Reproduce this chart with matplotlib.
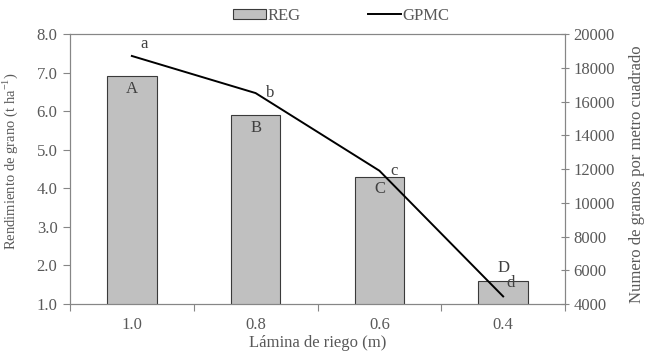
import numpy as np
import matplotlib
matplotlib.use("Agg")
import matplotlib.pyplot as plt

plt.rcParams['font.family'] = ['Liberation Serif', 'DejaVu Serif']
plt.rcParams['mathtext.fontset'] = 'custom'
plt.rcParams['mathtext.rm'] = 'Liberation Serif'

# datos
laminas = ["1.0", "0.8", "0.6", "0.4"]
reg = [6.9, 5.9, 4.3, 1.6]            # rendimiento de grano (t/ha)
gpmc = [18700, 16500, 11900, 4450]    # granos por metro cuadrado
letras_reg = ["A", "B", "C", "D"]
letras_gpmc = ["a", "b", "c", "d"]

gris = "#595959"
eje = "#868686"

fig = plt.figure(figsize=(6.69, 3.62), dpi=100)
ax = fig.add_axes([0.1046, 0.1602, 0.74, 0.7458])
x = np.arange(len(laminas))

barras = ax.bar(x, reg, width=0.4, bottom=0, color="#c0c0c0",
                edgecolor="#3a3a3a", linewidth=0.8, label="REG", zorder=2)
ax.set_ylim(1.0, 8.0)
ax.set_xlim(-0.5, 3.5)
ax.set_yticks(np.arange(1, 8.5, 1.0))
ax.set_yticklabels([f"{v:.1f}" for v in np.arange(1, 8.5, 1.0)])
ax.set_xticks(np.arange(-0.5, 4, 1.0))
ax.set_xticklabels([])
ax.set_xticks(x, minor=True)
ax.set_xticklabels(laminas, minor=True)
ax.tick_params(axis="x", which="minor", length=0, pad=9, labelsize=12, labelcolor=gris)
ax.tick_params(axis="x", which="major", direction="out", length=5, color=eje)
ax.tick_params(axis="y", direction="out", length=5, color=eje, pad=4)
ax.tick_params(labelsize=12, labelcolor=gris)
for s in ax.spines.values():
    s.set_color(eje)
ax.set_xlabel("Lámina de riego (m)", fontsize=12, color=gris, labelpad=2)
ax.set_ylabel("Rendimiento de grano (t ha$^{\\mathregular{-1}}$)", fontsize=10.5, color=gris)
ax.yaxis.set_label_coords(-0.10, 0.53)

for xi, v, l in zip(x, reg, letras_reg):
    if v > 2:
        ax.text(xi, v - 0.12, l, ha="center", va="top", fontsize=12, color="#404040")
    else:
        ax.text(xi, v + 0.12, l, ha="center", va="bottom", fontsize=12, color="#404040")

ax2 = ax.twinx()
linea, = ax2.plot(x, gpmc, color="black", linewidth=1.4, label="GPMC")
ax2.set_ylim(4000, 20000)
ax2.set_yticks(np.arange(4000, 20001, 2000))
ax2.tick_params(axis="y", direction="inout", length=6, color=eje,
                labelsize=12, labelcolor=gris, pad=3)
for s in ax2.spines.values():
    s.set_color(eje)
ax2.set_ylabel("Numero de granos por metro cuadrado", fontsize=12, color=gris)
ax2.yaxis.set_label_coords(1.13, 0.48)

desp = [(0.1, 250), (0.12, 0), (0.12, 0), (0.06, 300)]
for xi, v, l, (dx, dy) in zip(x, gpmc, letras_gpmc, desp):
    ax2.text(xi + dx, v + dy, l, ha="center", va="bottom" if dy > 0 else "center",
             fontsize=12, color="#404040")

fig.legend([barras, linea], ["REG", "GPMC"], loc="upper center", ncol=2,
           bbox_to_anchor=(0.51, 1.02), frameon=False, fontsize=12,
           labelcolor=gris, handlelength=2.0, handleheight=0.6,
           handletextpad=0.1, columnspacing=4.0)

fig.savefig("out.png", dpi=100)
